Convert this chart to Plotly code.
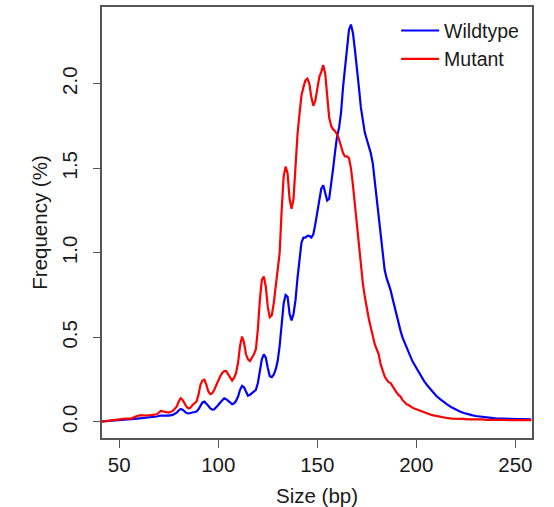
import plotly.graph_objects as go

# Fragment size (bp)
size_bp = [41, 44, 47, 50, 53, 56, 59, 61, 63, 66, 69, 71, 73, 75, 77, 79] + list(range(80, 201)) + \
          [202, 204, 206, 208, 210, 212, 214, 216, 218, 220, 222, 224, 226, 228, 230, 233, 236, 240, 244, 248, 252, 256, 258]

# Frequency (%) - Wildtype
wildtype = [0.003, 0.005, 0.007, 0.009, 0.012, 0.016, 0.020, 0.022, 0.025, 0.028, 0.032, 0.038, 0.036, 0.037, 0.042, 0.055,
            # 80-89
            0.068, 0.077, 0.072, 0.062, 0.053, 0.050, 0.052, 0.055, 0.058, 0.062,
            # 90-99
            0.075, 0.095, 0.115, 0.120, 0.110, 0.095, 0.080, 0.073, 0.075, 0.085,
            # 100-109
            0.100, 0.115, 0.130, 0.140, 0.135, 0.125, 0.110, 0.105, 0.110, 0.125,
            # 110-119
            0.150, 0.190, 0.213, 0.205, 0.180, 0.155, 0.160, 0.170, 0.175, 0.190,
            # 120-129
            0.230, 0.300, 0.370, 0.400, 0.380, 0.320, 0.270, 0.265, 0.280, 0.310,
            # 130-139
            0.360, 0.450, 0.600, 0.700, 0.750, 0.740, 0.640, 0.600, 0.640, 0.720,
            # 140-149
            0.850, 0.970, 1.060, 1.090, 1.090, 1.100, 1.100, 1.090, 1.110, 1.170,
            # 150-159
            1.240, 1.320, 1.380, 1.400, 1.360, 1.310, 1.320, 1.400, 1.500, 1.600,
            # 160-169
            1.690, 1.740, 1.830, 1.980, 2.100, 2.220, 2.320, 2.350, 2.300, 2.200,
            # 170-179
            2.100, 1.980, 1.860, 1.770, 1.710, 1.670, 1.630, 1.590, 1.530, 1.420,
            # 180-189
            1.300, 1.200, 1.080, 0.980, 0.900, 0.850, 0.820, 0.780, 0.730, 0.680,
            # 190-199
            0.630, 0.580, 0.540, 0.500, 0.470, 0.440, 0.410, 0.380, 0.360, 0.340,
            # 200
            0.320,
            # 202-258
            0.280, 0.240, 0.210, 0.180, 0.155, 0.135, 0.115, 0.100, 0.085, 0.072, 0.062, 0.053, 0.045, 0.040,
            0.035, 0.030, 0.025, 0.021, 0.019, 0.017, 0.016, 0.015, 0.015]

# Frequency (%) - Mutant
mutant = [0.002, 0.006, 0.012, 0.018, 0.020, 0.020, 0.035, 0.040, 0.038, 0.040, 0.045, 0.065, 0.060, 0.055, 0.065, 0.090,
          # 80-89
          0.120, 0.140, 0.130, 0.110, 0.090, 0.080, 0.085, 0.100, 0.110, 0.120,
          # 90-99
          0.160, 0.220, 0.245, 0.250, 0.220, 0.180, 0.165, 0.170, 0.190, 0.220,
          # 100-109
          0.250, 0.270, 0.290, 0.300, 0.300, 0.280, 0.260, 0.245, 0.260, 0.290,
          # 110-119
          0.350, 0.450, 0.505, 0.470, 0.400, 0.370, 0.360, 0.380, 0.400, 0.430,
          # 120-129
          0.550, 0.720, 0.840, 0.860, 0.800, 0.680, 0.620, 0.630, 0.700, 0.800,
          # 130-139
          0.900, 1.000, 1.250, 1.450, 1.510, 1.470, 1.320, 1.260, 1.320, 1.520,
          # 140-149
          1.700, 1.820, 1.930, 1.980, 2.020, 2.030, 2.000, 1.920, 1.870, 1.900,
          # 150-159
          1.960, 2.040, 2.070, 2.110, 2.060, 1.940, 1.800, 1.750, 1.730, 1.720,
          # 160-169
          1.700, 1.670, 1.630, 1.590, 1.570, 1.570, 1.560, 1.500, 1.400, 1.280,
          # 170-179
          1.170, 1.050, 0.930, 0.820, 0.740, 0.670, 0.610, 0.560, 0.500, 0.460,
          # 180-189
          0.430, 0.400, 0.340, 0.300, 0.270, 0.250, 0.235, 0.230, 0.210, 0.190,
          # 190-199
          0.175, 0.160, 0.150, 0.130, 0.115, 0.105, 0.100, 0.090, 0.085, 0.080,
          # 200
          0.075,
          # 202-258
          0.065, 0.055, 0.048, 0.040, 0.035, 0.030, 0.025, 0.022, 0.020, 0.020, 0.018, 0.018, 0.015, 0.016,
          0.014, 0.015, 0.012, 0.010, 0.012, 0.011, 0.012, 0.010, 0.011]

x_ticks = [50, 100, 150, 200, 250]
y_ticks = [0.0, 0.5, 1.0, 1.5, 2.0]
y_ticklabels = ["0.0", "0.5", "1.0", "1.5", "2.0"]

FONT = "Liberation Sans, Arial, sans-serif"
FS = 20.5
TXT = "#1a1a1a"
AX = "#555555"

fig = go.Figure()
fig.add_trace(go.Scatter(x=size_bp, y=wildtype, mode="lines", name="Wildtype",
                         line=dict(color="#0000FF", width=2.2)))
fig.add_trace(go.Scatter(x=size_bp, y=mutant, mode="lines", name="Mutant",
                         line=dict(color="#FF0000", width=2.2)))

fig.update_layout(
    width=554, height=507,
    margin=dict(l=102, r=22, t=7, b=69, autoexpand=False),
    paper_bgcolor="white", plot_bgcolor="white",
    font=dict(family=FONT, size=FS, color=TXT),
    showlegend=True,
    legend=dict(x=0.684, y=0.99, xanchor="left", yanchor="top",
                bgcolor="rgba(0,0,0,0)", borderwidth=0,
                font=dict(family=FONT, size=19.5, color=TXT),
                itemwidth=38, tracegroupgap=0),
    xaxis=dict(range=[41.3, 258.4], tickmode="array", tickvals=x_ticks,
               ticks="outside", ticklen=8, tickwidth=1, tickcolor=AX,
               showline=True, linecolor=AX, linewidth=1.5, mirror=True,
               showgrid=False, zeroline=False, automargin=False,
               tickfont=dict(family=FONT, size=FS, color=TXT),
               title=dict(text="Size (bp)", font=dict(family=FONT, size=FS, color=TXT), standoff=17)),
    yaxis=dict(range=[-0.095, 2.454], tickmode="array", tickvals=y_ticks, ticktext=y_ticklabels,
               tickangle=-90, ticklabelstandoff=8,
               ticks="outside", ticklen=7, tickwidth=1, tickcolor=AX,
               showline=True, linecolor=AX, linewidth=1.5, mirror=True,
               showgrid=False, zeroline=False, automargin=False,
               tickfont=dict(family=FONT, size=FS, color=TXT),
               title=dict(text="Frequency (%)", font=dict(family=FONT, size=FS, color=TXT), standoff=5)),
)

fig.write_html("out.html")
